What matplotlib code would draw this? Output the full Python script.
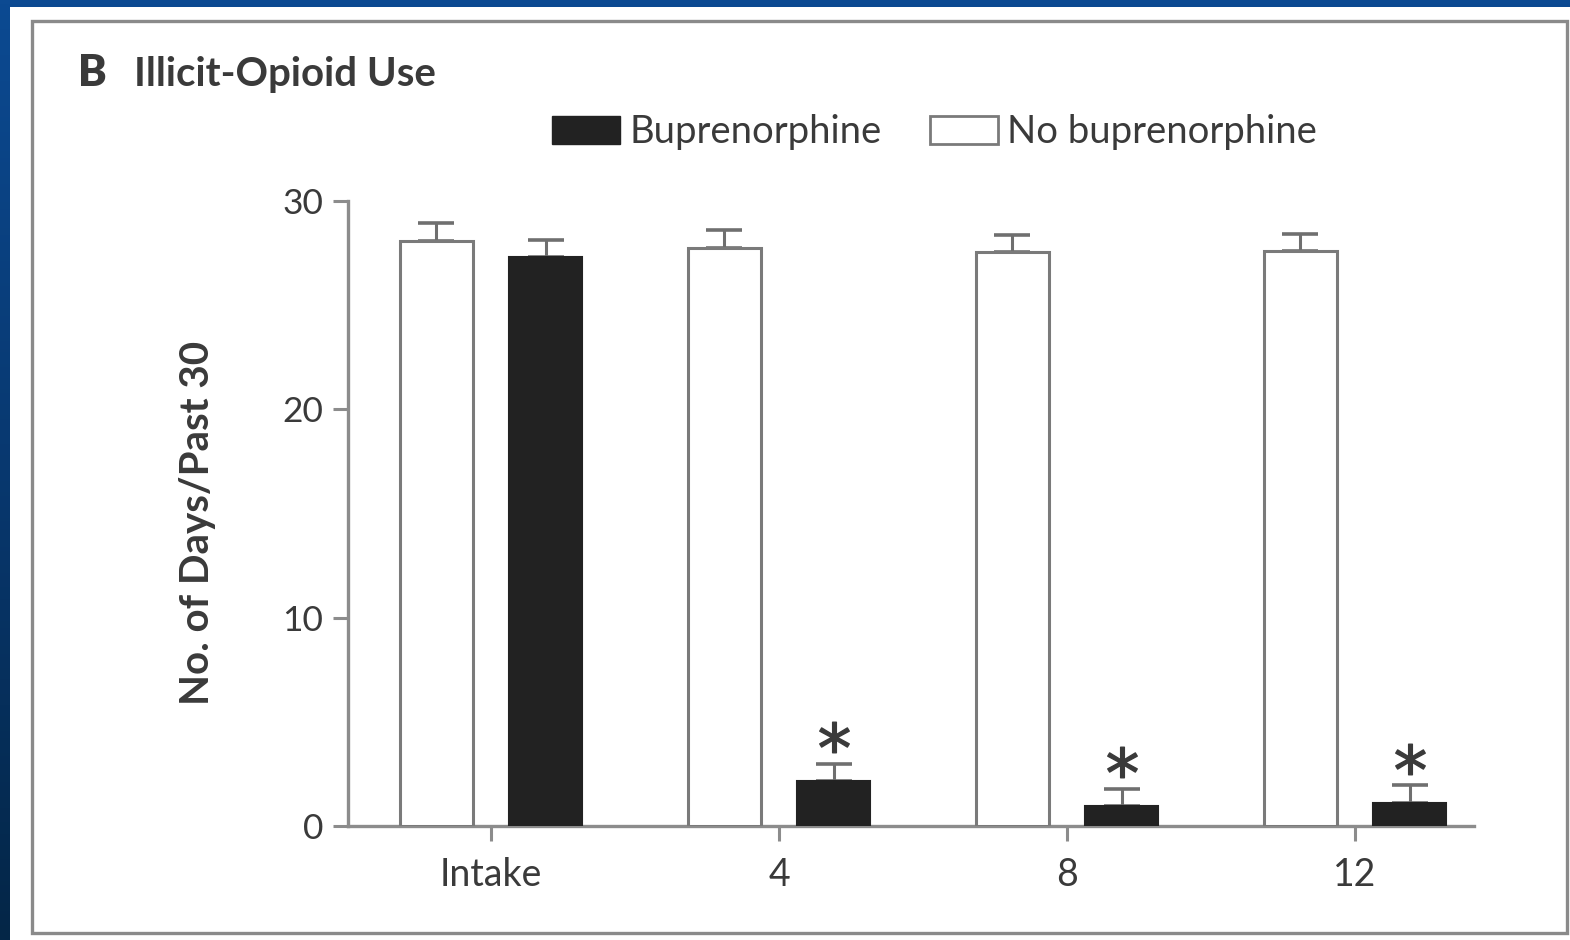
import matplotlib
matplotlib.use("Agg")
import matplotlib.pyplot as plt
import numpy as np
from matplotlib.patches import Rectangle, Patch

# data (days of illicit-opioid use in past 30 days)
groups = ["Intake", "4", "8", "12"]
no_bup = [28.1, 27.75, 27.55, 27.6]
no_bup_err = [0.85, 0.85, 0.8, 0.8]
bup = [27.3, 2.15, 0.95, 1.1]
bup_err = [0.85, 0.85, 0.85, 0.85]
significant = [False, True, True, True]
yticks = [0, 10, 20, 30]

W, H = 1570, 940
TXT = "#3a3a3a"
AXC = "#8c8c8c"
FONT = ["Lato", "DejaVu Sans"]


def fx(px):
    return px / W


def fy(py):
    return 1 - py / H


fig = plt.figure(figsize=(W / 100, H / 100), dpi=100)

# blue slide background with a white panel on top
bg = fig.add_axes([0, 0, 1, 1], zorder=-10)
grad = np.linspace(0, 1, 256).reshape(-1, 1)
bg.imshow(grad, aspect="auto", cmap=matplotlib.colors.LinearSegmentedColormap.from_list(
    "slide", ["#0c4a92", "#08386f", "#042647"]), extent=[0, 1, 0, 1], origin="upper")
bg.set_axis_off()
fig.patches.append(Rectangle((fx(10), 0), 1 - fx(10), fy(7), transform=fig.transFigure,
                             facecolor="white", edgecolor="none", zorder=-5))
fig.patches.append(Rectangle((fx(32), fy(933)), fx(1567) - fx(32), fy(21) - fy(933),
                             transform=fig.transFigure, facecolor="none",
                             edgecolor="#8a8a8a", linewidth=2.4, zorder=-4))

ax = fig.add_axes([fx(348), fy(826), fx(1474) - fx(348), fy(201) - fy(826)])
ax.patch.set_alpha(0)

x = np.arange(len(groups))
width = 0.253
off = 0.19

ax.bar(x - off, no_bup, width, color="white", edgecolor="#7a7a7a", linewidth=2.2, zorder=3)
ax.bar(x + off, bup, width, color="#222222", edgecolor="#222222", linewidth=1.5, zorder=3)
ax.errorbar(x - off, no_bup, yerr=[np.zeros(len(x)), no_bup_err], fmt="none",
            ecolor="#6f6f6f", elinewidth=2.2, capsize=13, capthick=2.6, zorder=2, clip_on=False)
ax.errorbar(x + off, bup, yerr=[np.zeros(len(x)), bup_err], fmt="none",
            ecolor="#6f6f6f", elinewidth=2.2, capsize=13, capthick=2.6, zorder=2, clip_on=False)

for xi, v, e, s in zip(x, bup, bup_err, significant):
    if s:
        ax.plot(xi + off, v + e + 1.25, marker="$*$", markersize=22, color="#3a3a3a",
                linestyle="none", clip_on=False)

ax.set_xlim(-0.4965, 3.413)
ax.set_ylim(0, 30)
ax.set_yticks(yticks)
ax.set_xticks(x)
ax.set_xticklabels(groups)
for s in ["top", "right"]:
    ax.spines[s].set_visible(False)
for s in ["left", "bottom"]:
    ax.spines[s].set_color(AXC)
    ax.spines[s].set_linewidth(2.4)
ax.tick_params(axis="y", length=11, width=2.2, color=AXC, pad=7,
               labelsize=25.5, labelcolor=TXT)
ax.tick_params(axis="x", length=11, width=2.2, color=AXC, pad=11,
               labelsize=27, labelcolor=TXT)
for lab in ax.get_xticklabels() + ax.get_yticklabels():
    lab.set_family(FONT)

# titles and axis label
fig.text(fx(78), fy(86), "B", fontsize=31, fontweight="heavy", color=TXT,
         family=FONT, va="baseline", ha="left")
fig.text(fx(134), fy(86), "Illicit-Opioid Use", fontsize=29, fontweight="bold",
         color=TXT, family=FONT, va="baseline", ha="left")
fig.text(fx(198), fy(523), "No. of Days/Past 30", fontsize=29, fontweight="bold",
         color=TXT, family=FONT, rotation=90, ha="center", va="center")

handles = [Patch(facecolor="#222222", edgecolor="#222222", label="Buprenorphine"),
           Patch(facecolor="white", edgecolor="#7a7a7a", linewidth=2, label="No buprenorphine")]
fig.legend(handles=handles, loc="center left", bbox_to_anchor=(fx(552), fy(132)),
           ncol=2, frameon=False, borderpad=0, borderaxespad=0, handlelength=1.78,
           handleheight=0.76, handletextpad=0.25, columnspacing=1.25,
           prop={"family": FONT, "size": 27.5}, labelcolor=TXT)

fig.savefig("out.png", dpi=100)
